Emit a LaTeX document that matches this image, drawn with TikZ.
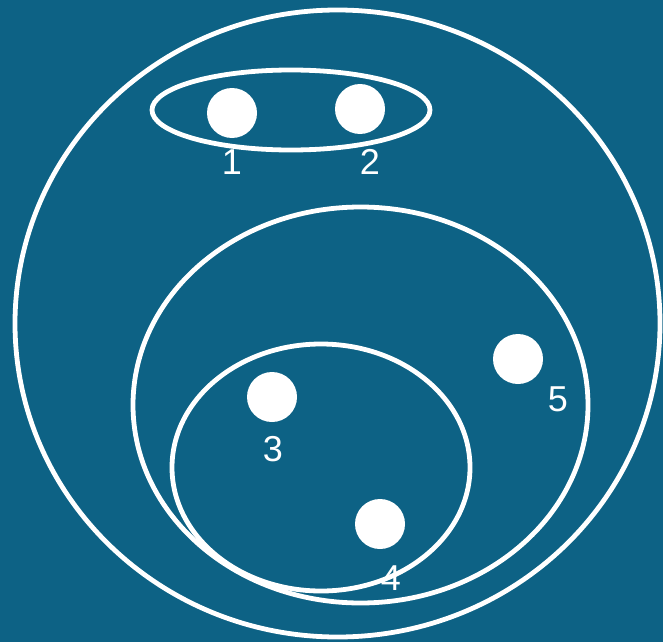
\documentclass[tikz,border=0pt]{standalone}
\usepackage{fontspec}
\setmainfont{Liberation Sans}
\usepackage{xcolor}
\usepackage{tikz}
\usetikzlibrary{positioning}
\definecolor{bgblue}{RGB}{13,98,133}
\tikzset{
  pt/.style={circle,fill=white,minimum size=50pt,inner sep=0pt},
  ring/.style={draw=white,line width=4.8pt},
  lab/.style={text=white,font=\fontsize{36}{40}\selectfont,inner sep=0pt}
}
\begin{document}
\begin{tikzpicture}[x=1pt,y=-1pt]
  % background
  \useasboundingbox[fill=bgblue] (0,0) rectangle (663,642);

  % nested sets
  \draw[ring] (337.5,323.5) ellipse [x radius=322.5pt, y radius=313.5pt];
  \draw[ring] (291,110) ellipse [x radius=139pt, y radius=40pt];
  \draw[ring] (360.5,405) ellipse [x radius=227.5pt, y radius=198pt];
  \draw[ring] (321,467.5) ellipse [x radius=149pt, y radius=123.5pt];

  % points
  \node[pt] (p1) at (232,113) {};
  \node[pt] (p2) at (360,109) {};
  \node[pt] (p3) at (272,397) {};
  \node[pt] (p4) at (380,524) {};
  \node[pt] (p5) at (518,359) {};

  \node[lab] (l1) at (232,162) {1};
  \node[lab] (l2) at (370,162) {2};
  \node[lab] (l3) at (273,449) {3};
  \node[lab] (l4) at (391,578) {4};
  \node[lab] (l5) at (558,399) {5};
\end{tikzpicture}
\end{document}
